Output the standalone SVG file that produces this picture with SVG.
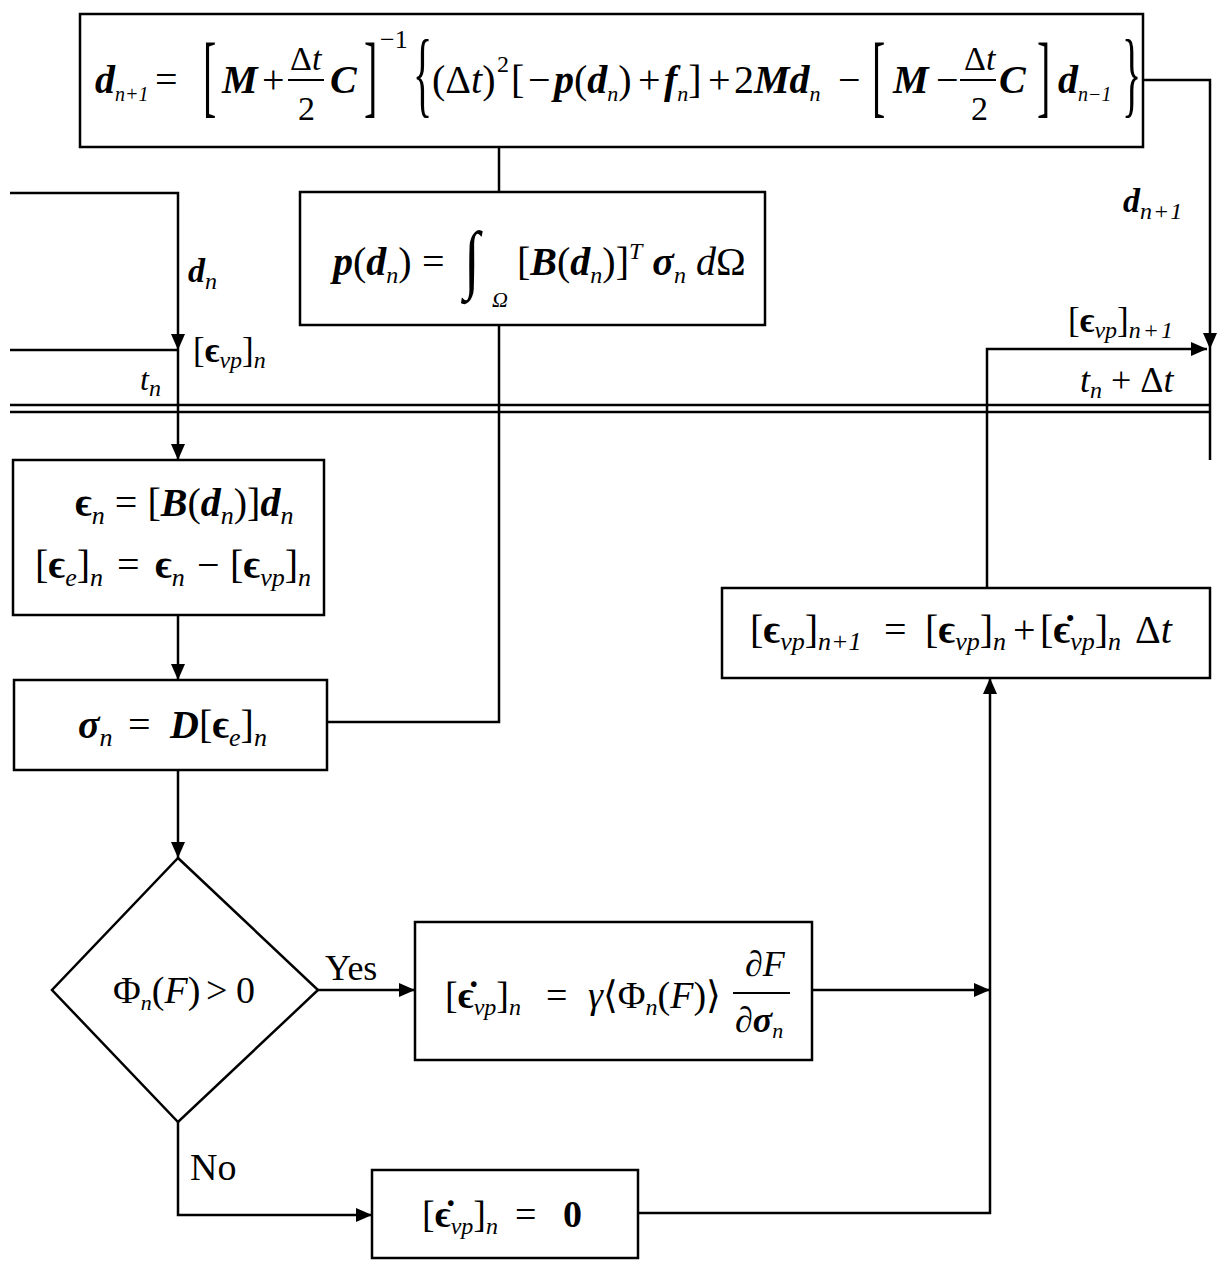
<svg xmlns="http://www.w3.org/2000/svg" width="1223" height="1273" viewBox="0 0 1223 1273">
<style>
text{font-family:"Liberation Serif","DejaVu Serif",serif;fill:#000}
.bi{font-weight:bold;font-style:italic}
.b{font-weight:bold}
.i{font-style:italic}
.s{font-style:italic;font-weight:normal}
.box{fill:#fff;stroke:#000;stroke-width:2.5}
.con{fill:none;stroke:#000;stroke-width:2.5}
.bar{stroke:#000;stroke-width:2}
</style>
<defs>
<marker id="ah" markerUnits="userSpaceOnUse" markerWidth="17" markerHeight="14" refX="16" refY="7" orient="auto">
<path d="M0,0 L16,7 L0,14 z" fill="#000"/>
</marker>
</defs>
<rect width="1223" height="1273" fill="#fff"/>

<g id="connectors">
<line class="con" x1="499" y1="147" x2="499" y2="192"/>
<polyline class="con" points="499,325 499,722 327,722"/>
<polyline class="con" points="10,193 178,193 178,350" marker-end="url(#ah)"/>
<line class="con" x1="10" y1="350" x2="178" y2="350"/>
<line class="con" x1="178" y1="350" x2="178" y2="460" marker-end="url(#ah)"/>
<line class="con" x1="178" y1="615" x2="178" y2="680" marker-end="url(#ah)"/>
<line class="con" x1="178" y1="770" x2="178" y2="858" marker-end="url(#ah)"/>
<line class="con" x1="318" y1="990" x2="415" y2="990" marker-end="url(#ah)"/>
<line class="con" x1="812" y1="990" x2="990" y2="990" marker-end="url(#ah)"/>
<polyline class="con" points="178,1122 178,1215 372,1215" marker-end="url(#ah)"/>
<polyline class="con" points="638,1213 990,1213 990,678" marker-end="url(#ah)"/>
<polyline class="con" points="987,588 987,349 1207,349" marker-end="url(#ah)"/>
<polyline class="con" points="1143,80 1210,80 1210,349" marker-end="url(#ah)"/>
<line class="con" x1="1210" y1="349" x2="1210" y2="460"/>
<line class="con" x1="10" y1="405" x2="1210" y2="405"/>
<line class="con" x1="10" y1="412" x2="1210" y2="412"/>
<text class="bi" x="188" y="282" font-size="34">d<tspan class="s" font-size="24" dy="7">n</tspan></text>
<text x="193" y="362" font-size="35">[<tspan class="b">ϵ</tspan><tspan class="s" font-size="24" dy="6">vp</tspan><tspan dy="-6">]</tspan><tspan class="s" font-size="24" dy="6">n</tspan></text>
<text class="i" x="140" y="390" font-size="32">t<tspan font-size="24" dy="6">n</tspan></text>
<text class="bi" x="1123" y="212" font-size="34">d<tspan class="s" font-size="24" dy="7" letter-spacing="1">n+1</tspan></text>
<text x="1068" y="332" font-size="35">[<tspan class="b">ϵ</tspan><tspan class="s" font-size="24" dy="6">vp</tspan><tspan dy="-6">]</tspan><tspan class="s" font-size="24" dy="6" letter-spacing="2">n+1</tspan></text>
<text x="1080" y="392" font-size="36"><tspan class="i">t</tspan><tspan class="s" font-size="24" dy="6">n</tspan><tspan dy="-6"> + Δ</tspan><tspan class="i">t</tspan></text>
<text x="325" y="980" font-size="36">Yes</text>
<text x="190" y="1180" font-size="38">No</text>
</g>

<g id="node-update-d">
<rect class="box" x="80" y="14" width="1063" height="133"/>
<text class="bi" x="95" y="93" font-size="40">d<tspan class="s" font-size="20" dy="8">n+1</tspan></text>
<text x="155" y="93" font-size="40">=</text>
<text transform="translate(203,106) scale(1,2.26)" font-size="40">[</text>
<text class="bi" x="222" y="93" font-size="40">M</text>
<text x="262" y="93" font-size="40">+</text>
<text x="290" y="70" font-size="34">Δ<tspan class="i">t</tspan></text>
<line class="bar" x1="288" y1="80" x2="324" y2="80"/>
<text x="298" y="120" font-size="34">2</text>
<text class="bi" x="330" y="93" font-size="40">C</text>
<text transform="translate(364,106) scale(1,2.26)" font-size="40">]</text>
<text x="380" y="48" font-size="26">−1</text>
<text transform="translate(413,105) scale(1,2.4)" font-size="40">{</text>
<text x="432" y="93" font-size="40">(Δ<tspan class="i">t</tspan>)</text>
<text x="497" y="72" font-size="24">2</text>
<text x="511" y="93" font-size="40">[</text>
<text x="528" y="93" font-size="40">−</text>
<text x="554" y="93" font-size="40"><tspan class="bi">p</tspan>(<tspan class="bi">d</tspan><tspan class="s" font-size="22" dy="8">n</tspan><tspan dy="-8">)</tspan></text>
<text x="638" y="93" font-size="40">+</text>
<text x="664" y="93" font-size="40"><tspan class="bi">f</tspan><tspan class="s" font-size="22" dy="8">n</tspan><tspan dy="-8">]</tspan></text>
<text x="708" y="93" font-size="40">+</text>
<text x="734" y="93" font-size="40">2<tspan class="bi">Md</tspan><tspan class="s" font-size="22" dy="8">n</tspan></text>
<text x="838" y="93" font-size="40">−</text>
<text transform="translate(872,106) scale(1,2.26)" font-size="40">[</text>
<text class="bi" x="893" y="93" font-size="40">M</text>
<text x="936" y="93" font-size="40">−</text>
<text x="964" y="70" font-size="34">Δ<tspan class="i">t</tspan></text>
<line class="bar" x1="960" y1="80" x2="996" y2="80"/>
<text x="971" y="120" font-size="34">2</text>
<text class="bi" x="999" y="93" font-size="40">C</text>
<text transform="translate(1037,106) scale(1,2.26)" font-size="40">]</text>
<text class="bi" x="1058" y="93" font-size="40">d<tspan class="s" font-size="20" dy="8">n−1</tspan></text>
<text transform="translate(1122,105) scale(1,2.4)" font-size="40">}</text>
</g>

<g id="node-internal-force">
<rect class="box" x="300" y="192" width="465" height="133"/>
<text x="333" y="275" font-size="40"><tspan class="bi">p</tspan>(<tspan class="bi">d</tspan><tspan class="s" font-size="24" dy="8">n</tspan><tspan dy="-8">)</tspan></text>
<text x="422" y="275" font-size="40">=</text>
<text transform="translate(464,284) scale(1.6,2.1)" font-size="36">∫</text>
<text class="i" x="492" y="307" font-size="22">Ω</text>
<text x="517" y="275" font-size="40">[<tspan class="bi">B</tspan>(<tspan class="bi">d</tspan><tspan class="s" font-size="24" dy="8">n</tspan><tspan dy="-8">)]</tspan><tspan class="s" font-size="24" dy="-16">T</tspan><tspan dy="16"> </tspan><tspan class="bi">σ</tspan><tspan class="s" font-size="24" dy="8">n</tspan><tspan dy="-8"> </tspan><tspan class="i">d</tspan>Ω</text>
</g>

<g id="node-strain">
<rect class="box" x="13" y="460" width="311" height="155"/>
<text x="75" y="516" font-size="40"><tspan class="b">ϵ</tspan><tspan class="s" font-size="26" dy="8">n</tspan><tspan dy="-8"> = [</tspan><tspan class="bi">B</tspan>(<tspan class="bi">d</tspan><tspan class="s" font-size="26" dy="8">n</tspan><tspan dy="-8">)]</tspan><tspan class="bi">d</tspan><tspan class="s" font-size="26" dy="8">n</tspan></text>
<text x="35" y="578" font-size="40">[<tspan class="b">ϵ</tspan><tspan class="s" font-size="26" dy="8">e</tspan><tspan dy="-8">]</tspan><tspan class="s" font-size="26" dy="8">n</tspan></text>
<text x="117" y="578" font-size="40">=</text>
<text x="155" y="578" font-size="40"><tspan class="b">ϵ</tspan><tspan class="s" font-size="26" dy="8">n</tspan></text>
<text x="197" y="578" font-size="40">−</text>
<text x="230" y="578" font-size="40">[<tspan class="b">ϵ</tspan><tspan class="s" font-size="26" dy="8">vp</tspan><tspan dy="-8">]</tspan><tspan class="s" font-size="26" dy="8">n</tspan></text>
</g>

<g id="node-stress">
<rect class="box" x="14" y="680" width="313" height="90"/>
<text x="78" y="738" font-size="40"><tspan class="bi">σ</tspan><tspan class="s" font-size="26" dy="8">n</tspan></text>
<text x="128" y="738" font-size="40">=</text>
<text x="170" y="738" font-size="40"><tspan class="bi">D</tspan>[<tspan class="b">ϵ</tspan><tspan class="s" font-size="26" dy="8">e</tspan><tspan dy="-8">]</tspan><tspan class="s" font-size="26" dy="8">n</tspan></text>
</g>

<g id="node-decision">
<polygon class="box" points="178,858 318,990 178,1122 52,990"/>
<text x="113" y="1003" font-size="38">Φ<tspan class="s" font-size="22" dy="7">n</tspan><tspan dy="-7">(</tspan><tspan class="i">F</tspan>)</text>
<text x="206" y="1003" font-size="38">&gt;</text>
<text x="236" y="1003" font-size="38">0</text>
</g>

<g id="node-rate-yes">
<rect class="box" x="415" y="922" width="397" height="138"/>
<text x="445" y="1008" font-size="38">[<tspan class="b">ϵ̇</tspan><tspan class="s" font-size="24" dy="7">vp</tspan><tspan dy="-7">]</tspan><tspan class="s" font-size="24" dy="7">n</tspan></text>
<text x="546" y="1008" font-size="38">=</text>
<text x="588" y="1008" font-size="38"><tspan class="i">γ</tspan>⟨Φ<tspan class="s" font-size="24" dy="7">n</tspan><tspan dy="-7">(</tspan><tspan class="i">F</tspan>)⟩</text>
<text x="745" y="976" font-size="36"><tspan class="i">∂F</tspan></text>
<line class="bar" x1="733" y1="993" x2="790" y2="993"/>
<text x="735" y="1032" font-size="36"><tspan class="i">∂</tspan><tspan class="bi">σ</tspan><tspan class="s" font-size="22" dy="6">n</tspan></text>
</g>

<g id="node-rate-no">
<rect class="box" x="372" y="1170" width="266" height="88"/>
<text x="422" y="1227" font-size="38">[<tspan class="b">ϵ̇</tspan><tspan class="s" font-size="24" dy="7">vp</tspan><tspan dy="-7">]</tspan><tspan class="s" font-size="24" dy="7">n</tspan></text>
<text x="515" y="1227" font-size="38">=</text>
<text class="b" x="563" y="1227" font-size="38">0</text>
</g>

<g id="node-update-vp">
<rect class="box" x="722" y="588" width="488" height="90"/>
<text x="750" y="643" font-size="40">[<tspan class="b">ϵ</tspan><tspan class="s" font-size="26" dy="7">vp</tspan><tspan dy="-7">]</tspan><tspan class="s" font-size="26" dy="7">n+1</tspan></text>
<text x="884" y="643" font-size="40">=</text>
<text x="925" y="643" font-size="40">[<tspan class="b">ϵ</tspan><tspan class="s" font-size="26" dy="7">vp</tspan><tspan dy="-7">]</tspan><tspan class="s" font-size="26" dy="7">n</tspan></text>
<text x="1013" y="643" font-size="40">+</text>
<text x="1040" y="643" font-size="40">[<tspan class="b">ϵ̇</tspan><tspan class="s" font-size="26" dy="7">vp</tspan><tspan dy="-7">]</tspan><tspan class="s" font-size="26" dy="7">n</tspan></text>
<text x="1135" y="643" font-size="40">Δ<tspan class="i">t</tspan></text>
</g>
</svg>
